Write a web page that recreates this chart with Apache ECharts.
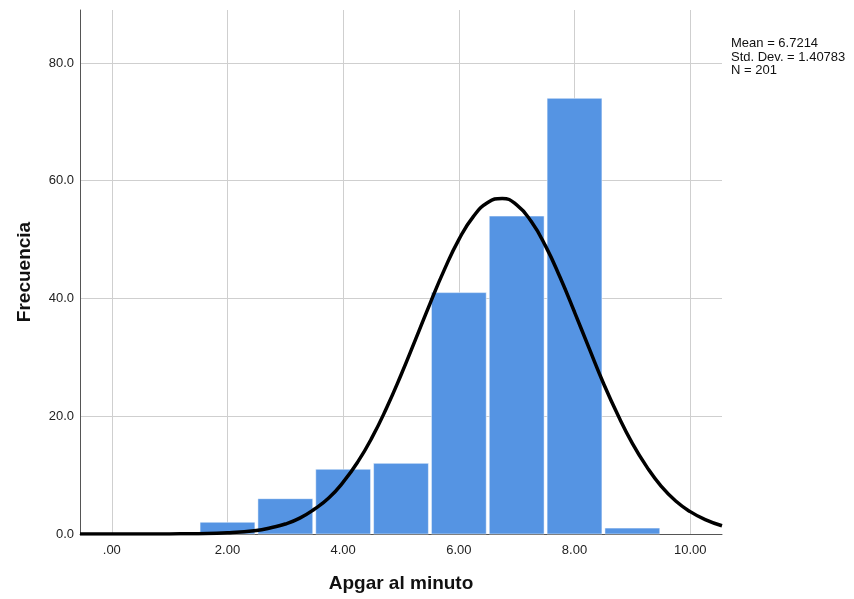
<!DOCTYPE html>
<html>
<head>
<meta charset="utf-8">
<script src="https://cdn.jsdelivr.net/npm/echarts@6/dist/echarts.min.js"></script>
<style>
  html, body { margin: 0; padding: 0; background: #fff; }
  #chart { width: 854px; height: 599px; }
</style>
</head>
<body>
<div id="chart"></div>
<script>
// histogram bins (center of each 1-wide bin) and counts
const binCenters = [2, 3, 4, 5, 6, 7, 8, 9]
const binCounts = [2, 6, 11, 12, 41, 54, 74, 1]

// normal curve
const curveX = [-0.55, 0, 0.5, 1, 1.5, 2, 2.5, 2.75, 3, 3.25, 3.5, 3.75, 4, 4.25, 4.5, 4.75, 5, 5.25, 5.5, 5.75, 6, 6.25, 6.5, 6.75,
  7, 7.25, 7.5, 7.75, 8, 8.25, 8.5, 8.75, 9, 9.25, 9.5, 9.75, 10, 10.25, 10.55]
const curveY = [0, 0, 0, 0.02, 0.06, 0.2, 0.6, 1.07, 1.7, 2.7, 4.2, 6.1, 8.8, 12.2, 16.4, 21.4, 27, 33, 39.1, 44.9, 50, 53.9, 56.3, 57,
  55.9, 53.1, 48.9, 43.6, 37.7, 31.6, 25.6, 20.2, 15.4, 11.4, 8.1, 5.6, 3.8, 2.5, 1.4]

const xTicks = [0, 2, 4, 6, 8, 10]
const yTicks = [0, 20, 40, 60, 80]

const statsLines = ['Mean = 6.7214', 'Std. Dev. = 1.40783', 'N = 201']

const FONT = '"Liberation Sans", Arial, sans-serif'
const BAR = '#5594e3'

const chart = echarts.init(document.getElementById('chart'))

chart.setOption({
  animation: false,
  grid: { left: 80, right: 132, top: 10, bottom: 65 },
  xAxis: {
    type: 'value',
    min: -0.55,
    max: 10.55,
    name: 'Apgar al minuto',
    nameLocation: 'middle',
    nameGap: 40,
    nameTextStyle: { fontFamily: FONT, fontSize: 19, fontWeight: 'bold', color: '#111' },
    axisLine: { onZero: false, lineStyle: { color: '#555', width: 1 } },
    axisTick: { show: false, customValues: xTicks },
    axisLabel: {
      customValues: xTicks,
      color: '#222', fontFamily: FONT, fontSize: 13, margin: 10,
      formatter: (v) => (v === 0 ? '.00' : v.toFixed(2))
    },
    splitLine: { show: true, lineStyle: { color: '#cfcfcf', width: 1 } }
  },
  yAxis: {
    type: 'value',
    min: 0,
    max: 89,
    name: 'Frecuencia',
    nameLocation: 'middle',
    nameGap: 46,
    nameTextStyle: { fontFamily: FONT, fontSize: 19, fontWeight: 'bold', color: '#111' },
    axisLine: { show: true, onZero: false, lineStyle: { color: '#555', width: 1 } },
    axisTick: { show: false, customValues: yTicks },
    axisLabel: {
      customValues: yTicks,
      color: '#222', fontFamily: FONT, fontSize: 13, margin: 6,
      formatter: (v) => v.toFixed(1)
    },
    splitLine: { show: true, lineStyle: { color: '#cfcfcf', width: 1 } }
  },
  graphic: [{
    type: 'text',
    left: 731,
    top: 37,
    style: {
      text: statsLines.join('\n'),
      font: '13px ' + FONT,
      lineHeight: 13.5,
      fill: '#111'
    }
  }],
  series: [
    {
      type: 'custom',
      z: 2,
      data: binCenters.map((c, i) => [c, binCounts[i]]),
      renderItem: (params, api) => {
        const c = api.value(0)
        const h = api.value(1)
        const p0 = api.coord([c - 0.5, h])
        const p1 = api.coord([c + 0.5, 0])
        return {
          type: 'rect',
          shape: { x: p0[0] + 1.5, y: p0[1], width: p1[0] - p0[0] - 3, height: p1[1] - p0[1] },
          style: { fill: BAR, stroke: 'rgba(255,255,255,0.5)', lineWidth: 1 }
        }
      }
    },
    {
      type: 'line',
      z: 3,
      smooth: true,
      showSymbol: false,
      clip: true,
      lineStyle: { color: '#000', width: 3.5 },
      data: curveX.map((x, i) => [x, curveY[i]])
    }
  ]
})
</script>
</body>
</html>
